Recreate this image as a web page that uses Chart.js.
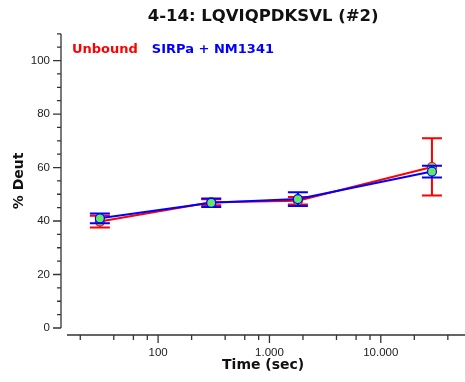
<!DOCTYPE html>
<html>
<head>
<meta charset="utf-8">
<script src="https://cdn.jsdelivr.net/npm/chart.js@4.4.1/dist/chart.umd.min.js"></script>
<style>
html, body { margin: 0; padding: 0; background: #fff; }
</style>
</head>
<body>
<canvas id="myChart" width="465" height="382"></canvas>
<script>
// datos
let Tiempos = [30, 300, 1800, 28800];
let Unbound = [39.8, 47.0, 47.6, 60.2];
let Unbound_SD = [2.2, 1.1, 1.4, 10.7];
let Sirpa = [41.0, 46.8, 48.2, 58.5];
let Sirpa_SD = [1.8, 1.6, 2.6, 2.2];

let x_Ticks = [20, 40, 60, 80, 100, 200, 400, 600, 800, 1000, 2000, 4000, 6000, 8000, 10000, 20000, 40000];
let x_Etiquetas = [100, 1000, 10000];
let y_Ticks = [0, 5, 10, 15, 20, 25, 30, 35, 40, 45, 50, 55, 60, 65, 70, 75, 80, 85, 90, 95, 100, 105, 110];
let y_Etiquetas = [0, 20, 40, 60, 80, 100];

var myChart;

function formatoMiles(v) {
    return String(v).replace(/\B(?=(\d{3})+(?!\d))/g, ".");
}

// barras de error (desviacion)
const errorBars = {
    id: 'errorBars',
    beforeDatasetDraw(chart, args) {
        const ds = chart.data.datasets[args.index];
        const y = chart.scales.y;
        const ctx = chart.ctx;
        ctx.save();
        ctx.strokeStyle = ds.borderColor;
        ctx.lineWidth = 2;
        args.meta.data.forEach((pt, i) => {
            const v = ds.data[i].y;
            const e = ds.errores[i];
            const top = y.getPixelForValue(v + e);
            const bot = y.getPixelForValue(v - e);
            ctx.beginPath();
            ctx.moveTo(pt.x, top); ctx.lineTo(pt.x, bot);
            ctx.moveTo(pt.x - 10, top); ctx.lineTo(pt.x + 10, top);
            ctx.moveTo(pt.x - 10, bot); ctx.lineTo(pt.x + 10, bot);
            ctx.stroke();
        });
        ctx.restore();
    }
};

// ejes separados como en el original
const ejes = {
    id: 'ejes',
    afterDraw(chart) {
        const ctx = chart.ctx;
        const a = chart.chartArea;
        const xs = chart.scales.x;
        const ys = chart.scales.y;
        ctx.save();
        ctx.strokeStyle = '#333';
        ctx.lineWidth = 1.3;
        // eje y
        const yx = a.left - 6;
        ctx.beginPath();
        ctx.moveTo(yx, ys.getPixelForValue(110));
        ctx.lineTo(yx, ys.getPixelForValue(0));
        y_Ticks.forEach(v => {
            const p = ys.getPixelForValue(v);
            const len = y_Etiquetas.includes(v) ? 8 : 4;
            ctx.moveTo(yx - len, p);
            ctx.lineTo(yx, p);
        });
        ctx.stroke();
        // eje x
        const xy = a.bottom + 7;
        ctx.beginPath();
        ctx.moveTo(a.left, xy);
        ctx.lineTo(chart.width, xy);
        x_Ticks.forEach(v => {
            const p = xs.getPixelForValue(v);
            const len = x_Etiquetas.includes(v) ? 8 : 5;
            ctx.moveTo(p, xy);
            ctx.lineTo(p, xy + len);
        });
        ctx.stroke();
        ctx.restore();
    }
};

// leyenda dentro del area
const leyenda = {
    id: 'leyenda',
    afterDraw(chart) {
        const ctx = chart.ctx;
        const a = chart.chartArea;
        ctx.save();
        ctx.font = 'bold 13px "DejaVu Sans"';
        ctx.textBaseline = 'alphabetic';
        let x = a.left + 5;
        chart.data.datasets.forEach(ds => {
            ctx.fillStyle = ds.borderColor;
            ctx.fillText(ds.label, x, a.top + 19);
            x += ctx.measureText(ds.label).width + 14;
        });
        ctx.restore();
    }
};

function ChartDeut() {
    const data = {
        datasets: [{
            label: 'Unbound',
            data: Tiempos.map((t, i) => ({ x: t, y: Unbound[i] })),
            errores: Unbound_SD,
            borderColor: '#ff0000',
            backgroundColor: '#62e862',
            borderWidth: 2,
            pointRadius: 4.5,
            pointBorderWidth: 1.2,
            pointBorderColor: '#ff0000',
            pointBackgroundColor: '#62e862',
            tension: 0,
            order: 1
        }, {
            label: 'SIRPa + NM1341',
            data: Tiempos.map((t, i) => ({ x: t, y: Sirpa[i] })),
            errores: Sirpa_SD,
            borderColor: '#0000ff',
            backgroundColor: '#62e862',
            borderWidth: 2,
            pointRadius: 4.5,
            pointBorderWidth: 1.2,
            pointBorderColor: '#0000ff',
            pointBackgroundColor: '#62e862',
            tension: 0,
            order: 0
        }]
    };

    const tickFont = { family: '"Liberation Sans"', size: 11.5 };

    const config = {
        type: 'line',
        data: data,
        plugins: [errorBars, ejes, leyenda],
        options: {
            responsive: false,
            animation: false,
            layout: { padding: { left: 10.6, right: 0, top: 0, bottom: 8 } },
            plugins: {
                legend: { display: false },
                tooltip: { enabled: false },
                title: {
                    display: true,
                    fullSize: false,
                    text: '4-14: LQVIQPDKSVL (#2)',
                    color: '#111',
                    font: { family: '"DejaVu Sans"', size: 16.5, weight: 'bold' },
                    padding: { top: 7, bottom: 7 }
                }
            },
            scales: {
                x: {
                    type: 'logarithmic',
                    min: 15.2,
                    max: 50700,
                    grid: { display: false },
                    border: { display: false },
                    afterBuildTicks: (s) => { s.ticks = x_Ticks.map(v => ({ value: v })); },
                    afterFit: (s) => { s.height = 46; },
                    ticks: {
                        autoSkip: false,
                        maxRotation: 0,
                        padding: 10,
                        color: '#222',
                        font: tickFont,
                        callback: (v) => x_Etiquetas.includes(v) ? formatoMiles(v) : ''
                    },
                    title: {
                        display: true,
                        text: 'Time (sec)',
                        color: '#111',
                        font: { family: '"DejaVu Sans"', size: 14, weight: 'bold' },
                        padding: { top: 0, bottom: 0 }
                    }
                },
                y: {
                    min: 0,
                    max: 110,
                    grid: { display: false },
                    border: { display: false },
                    afterBuildTicks: (s) => { s.ticks = y_Ticks.map(v => ({ value: v })); },
                    afterFit: (s) => { s.width = 56.4; },
                    ticks: {
                        autoSkip: false,
                        padding: 9,
                        color: '#222',
                        font: tickFont,
                        callback: (v) => y_Etiquetas.includes(v) ? String(v) : ''
                    },
                    title: {
                        display: true,
                        text: '% Deut',
                        color: '#111',
                        font: { family: '"DejaVu Sans"', size: 14, weight: 'bold' },
                        padding: { top: 0, bottom: 0 }
                    }
                }
            }
        }
    };

    myChart = new Chart(document.getElementById('myChart'), config);
}

ChartDeut();
</script>
</body>
</html>
